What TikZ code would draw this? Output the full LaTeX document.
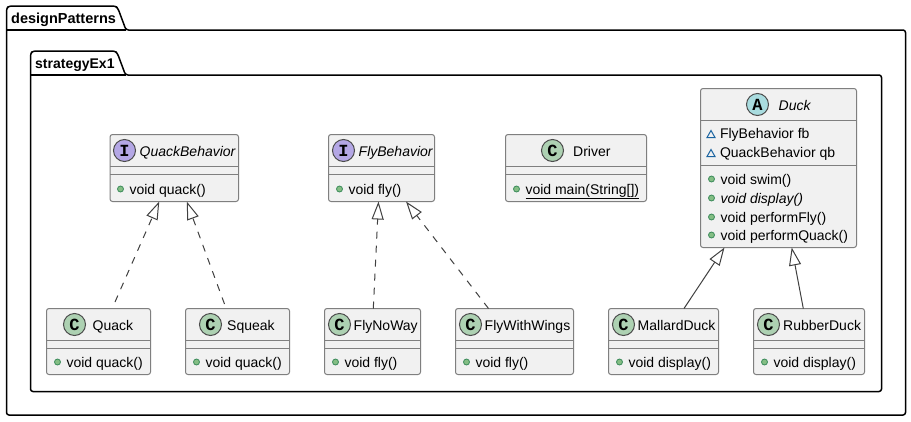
\documentclass[tikz,border=0pt]{standalone}
\usepackage{fontspec}
\setmainfont{Liberation Sans}
\setmonofont{Liberation Mono}
\usetikzlibrary{arrows.meta,calc}
\definecolor{boxfill}{HTML}{F1F1F1}
\definecolor{boxline}{HTML}{7F7F7F}
\definecolor{spotc}{HTML}{ADD1B2}
\definecolor{spoti}{HTML}{B4A7E5}
\definecolor{spota}{HTML}{A9DCDF}
\definecolor{pubgreen}{HTML}{84BE84}
\definecolor{pubedge}{HTML}{3A8A5A}
\definecolor{pkgblue}{HTML}{1963A0}
\tikzset{
  x=1pt,y=-1pt,
  cbox/.style={draw=boxline,fill=boxfill,line width=1pt,rounded corners=2.5pt,inner sep=0pt,outer sep=0pt},
  sep/.style={draw=boxline,line width=1pt},
  spot/.style={circle,draw=black!70,line width=1pt,minimum size=22pt,inner sep=0pt,font=\fontsize{17}{17}\bfseries\ttfamily},
  label/.style={inner sep=0pt,anchor=base west,font=\fontsize{14}{14}\selectfont},
  ttl/.style={label,font=\fontsize{14}{14}\selectfont},
  pub/.style={circle,draw=pubedge,fill=pubgreen,line width=.8pt,minimum size=6pt,inner sep=0pt},
  pkgshape/.style={draw=black,fill=white,line width=1.5pt,line join=round},
  pkgtitle/.style={inner sep=0pt,anchor=base west,font=\fontsize{14}{14}\bfseries\selectfont},
  real/.style={draw=black!75,line width=1pt,-{Triangle[open,fill=white,length=18pt,width=12pt,line width=1pt]}},
  impl/.style={real,dash pattern=on 7pt off 7pt},
}
% name, x1, y1, x2, y2, line1, line2
\newcommand{\classbox}[7]{%
  \node[cbox,minimum width={(#4-#2)*1pt},minimum height={(#5-#3)*1pt},anchor=north west] (#1) at (#2,#3) {};
  \draw[sep] (#2,#6) -- (#4,#6) (#2,#7) -- (#4,#7);
}
% name, letter, colour, cx, cy
\newcommand{\spotmark}[5]{\node[spot,fill=#3] (#1) at (#4,#5) {#2};}
% name, x, baseline, text
\newcommand{\pubrow}[4]{%
  \node[pub] (#1d) at (#2,#3-5) {};
  \node[label] (#1) at (#2+8.8,#3) {#4};
}
\newcommand{\pkgrow}[4]{%
  \draw[pkgblue,line width=1pt] (#2-4,#3-1) -- (#2+4,#3-1) -- (#2,#3-8) -- cycle;
  \node[label] (#1) at (#2+8.8,#3) {#4};
}
\begin{document}
\begin{tikzpicture}
\useasboundingbox (0,0) rectangle (911,421);
% packages
\draw[pkgshape,rounded corners=2.5pt] (6.5,30) -- (6.5,8.5) -- (9,6) -- (115.5,6) -- (118,8.5) -- (126,30) -- (905.5,30) -- (905.5,415) -- (6.5,415) -- cycle;
\draw[black,line width=1.5pt] (6.5,30) -- (126,30);
\node[pkgtitle,font=\fontsize{14.5}{14.5}\bfseries\selectfont] (pa) at (11,23) {designPatterns};
\draw[pkgshape,rounded corners=2.5pt] (30.5,75) -- (30.5,53.5) -- (33,51) -- (115,51) -- (117.5,53.5) -- (125.5,75) -- (881.5,75) -- (881.5,391.5) -- (30.5,391.5) -- cycle;
\draw[black,line width=1.5pt] (30.5,75) -- (125.5,75);
\node[pkgtitle] (pb) at (35,68) {strategyEx1};
% classes
\classbox{qb}{110}{134.5}{238.5}{201.5}{166.5}{174.5}
\spotmark{qbs}{I}{spoti}{124.5}{150.5}
\node[ttl,font=\fontsize{14}{14}\itshape] (qbt) at (139.5,156) {QuackBehavior};
\pubrow{qbm}{120.5}{194}{void quack()}

\classbox{fb}{328.5}{134.5}{434.5}{201.5}{166.5}{174.5}
\spotmark{fbs}{I}{spoti}{343.5}{150.5}
\node[ttl,font=\fontsize{14}{14}\itshape] (fbt) at (358.5,156) {FlyBehavior};
\pubrow{fbm}{339.5}{194}{void fly()}

\classbox{dr}{505.5}{134.5}{646.5}{201.5}{166.5}{174.5}
\spotmark{drs}{C}{spotc}{552.5}{150.5}
\node[ttl] (drt) at (573,156) {Driver};
\pubrow{drm}{516.5}{194}{\underline{void main(String[])}}

\classbox{du}{700.5}{88.5}{856.5}{247.5}{120.5}{165.5}
\spotmark{dus}{A}{spota}{757.5}{104.5}
\node[ttl,font=\fontsize{14}{14}\itshape] (dut) at (778.5,110) {Duck};
\pkgrow{dua}{711}{138.5}{FlyBehavior fb}
\pkgrow{dub}{711}{157.5}{QuackBehavior qb}
\pubrow{duc}{711.5}{184}{void swim()}
\pubrow{dud}{711.5}{203}{\itshape void display()}
\pubrow{due}{711.5}{222}{void performFly()}
\pubrow{duf}{711.5}{240}{void performQuack()}

\classbox{qu}{46.5}{308.5}{150.5}{374.5}{340.5}{348.5}
\spotmark{qus}{C}{spotc}{74.5}{324.5}
\node[ttl] (qut) at (92.5,330) {Quack};
\pubrow{qum}{57.5}{367}{void quack()}

\classbox{sq}{185.5}{308.5}{289.5}{374.5}{340.5}{348.5}
\spotmark{sqs}{C}{spotc}{210.5}{324.5}
\node[ttl] (sqt) at (227,330) {Squeak};
\pubrow{sqm}{196.5}{367}{void quack()}

\classbox{fn}{324.5}{308.5}{420.5}{374.5}{340.5}{348.5}
\spotmark{fns}{C}{spotc}{339.5}{324.5}
\node[ttl] (fnt) at (353.5,330) {FlyNoWay};
\pubrow{fnm}{335.5}{367}{void fly()}

\classbox{fw}{455.5}{308.5}{573.5}{374.5}{340.5}{348.5}
\spotmark{fws}{C}{spotc}{470.5}{324.5}
\node[ttl] (fwt) at (484.5,330) {FlyWithWings};
\pubrow{fwm}{466.5}{367}{void fly()}

\classbox{ma}{608.5}{308.5}{718.5}{374.5}{340.5}{348.5}
\spotmark{mas}{C}{spotc}{623.5}{324.5}
\node[ttl] (mat) at (637.5,330) {MallardDuck};
\pubrow{mam}{619.5}{367}{void display()}

\classbox{ru}{753.5}{308.5}{864.5}{374.5}{340.5}{348.5}
\spotmark{rus}{C}{spotc}{768.5}{324.5}
\node[ttl] (rut) at (783,330) {RubberDuck};
\pubrow{rum}{764.5}{367}{void display()}
% connectors
\draw[impl] ([xshift=16.5pt,yshift=6.5pt]qu.north) -- ([xshift=-15pt]qb.south);
\draw[impl] ([xshift=-13pt,yshift=4.5pt]sq.north) -- ([xshift=12.5pt]qb.south);
\draw[impl] ([xshift=.8pt]fn.north) -- ([xshift=-3pt]fb.south);
\draw[impl] ([xshift=-26pt]fw.north) -- ([xshift=24.5pt]fb.south);
\draw[real] ([xshift=20.5pt]ma.north) -- ([xshift=-54pt]du.south);
\draw[real] ([xshift=-5.7pt]ru.north) -- ([xshift=13.2pt]du.south);
\end{tikzpicture}
\end{document}
